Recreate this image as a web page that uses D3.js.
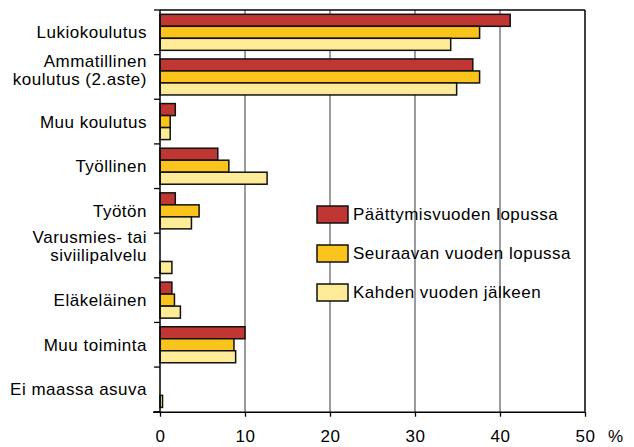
<!DOCTYPE html>
<html><head><meta charset="utf-8">
<script src="https://cdn.jsdelivr.net/npm/d3@7"></script>
<style>
body{margin:0;background:#fff;}
text{font-family:"Liberation Sans",Arial,sans-serif;font-size:17px;letter-spacing:0.5px;fill:#000;}
</style></head><body>
<svg id="c" width="634" height="447"></svg>
<script>
const categories = ["Lukiokoulutus","Ammatillinen koulutus (2.aste)","Muu koulutus","Työllinen","Työtön","Varusmies- tai siviilipalvelu","Eläkeläinen","Muu toiminta","Ei maassa asuva"];
const categoryLines = [["Lukiokoulutus"],["Ammatillinen","koulutus (2.aste)"],["Muu koulutus"],["Työllinen"],["Työtön"],["Varusmies- tai","siviilipalvelu"],["Eläkeläinen"],["Muu toiminta"],["Ei maassa asuva"]];
const seriesNames = ["Päättymisvuoden lopussa","Seuraavan vuoden lopussa","Kahden vuoden jälkeen"];
const seriesColors = ["#bf3633","#fbc41d","#fdeb98"];
const endOfYear   = [41.2, 36.8, 1.8, 6.8, 1.8, 0, 1.4, 10.0, 0];
const nextYear    = [37.6, 37.6, 1.2, 8.1, 4.6, 0, 1.7, 8.7, 0];
const afterTwo    = [34.2, 34.9, 1.2, 12.6, 3.7, 1.4, 2.4, 8.9, 0.3];
const seriesValues = [endOfYear, nextYear, afterTwo];
const xTicks = [0,10,20,30,40,50];

(function(){
const svg = d3.select("#c");
const mLeft = 160, mRight = 585, mTop = 10, mBottom = 411.7;
const x = d3.scaleLinear().domain([0,50]).range([mLeft,mRight]);
const p = 0.193;
const y = d3.scaleBand().domain(categories).range([mTop,mBottom]).paddingInner(p).paddingOuter(p/2);
const ySub = d3.scaleBand().domain(d3.range(seriesNames.length)).range([0,y.bandwidth()]);

// gridlines
svg.append("g").selectAll("line").data(xTicks.filter(t=>t>0&&t<50)).join("line")
  .attr("x1",d=>x(d)).attr("x2",d=>x(d)).attr("y1",mTop).attr("y2",mBottom)
  .attr("stroke","#666").attr("stroke-width",1.3);
// frame: top & right
svg.append("line").attr("x1",mLeft).attr("x2",mRight).attr("y1",mTop).attr("y2",mTop).attr("stroke","#000").attr("stroke-width",1.5);
svg.append("line").attr("x1",mRight).attr("x2",mRight).attr("y1",mTop).attr("y2",mBottom).attr("stroke","#000").attr("stroke-width",1.5);

// bars
const groups = svg.append("g").selectAll("g").data(categories).join("g")
  .attr("transform",d=>`translate(0,${y(d)})`);
groups.selectAll("rect").data((d,i)=>seriesValues.map((s,k)=>({k,v:s[i]})).filter(o=>o.v>0)).join("rect")
  .attr("x",x(0)).attr("y",d=>ySub(d.k)).attr("width",d=>x(d.v)-x(0)).attr("height",ySub.bandwidth())
  .attr("fill",d=>seriesColors[d.k]).attr("stroke","#111").attr("stroke-width",1.5);

// bottom axis
const xAxis = d3.axisBottom(x).tickValues(xTicks).tickSize(5).tickFormat(d3.format("d"));
const gx = svg.append("g").attr("transform",`translate(0,${mBottom})`).call(xAxis);
gx.select(".domain").attr("stroke","#000").attr("stroke-width",1.5).attr("d",`M${mLeft-7},0.5H${mRight}`);
gx.selectAll(".tick line").attr("stroke","#000").attr("stroke-width",1.3);
gx.selectAll(".tick text").attr("y",30.5).attr("dy",null)
  .style("font-size","17px").style("font-family","Liberation Sans, Arial, sans-serif").attr("fill","#000");
svg.append("text").attr("x",608).attr("y",mBottom+30.5).text("%");

// left axis line + boundary ticks
svg.append("line").attr("x1",mLeft).attr("x2",mLeft).attr("y1",mTop).attr("y2",mBottom).attr("stroke","#000").attr("stroke-width",1.5);
const step = y.step();
svg.append("g").selectAll("line").data(d3.range(categories.length+1)).join("line")
  .attr("x1",mLeft-6).attr("x2",mLeft).attr("y1",i=>mTop+i*step).attr("y2",i=>mTop+i*step)
  .attr("stroke","#000").attr("stroke-width",1.3);

// category labels
const lineOffsets = {1:[-16,2],5:[-18.5,-0.5]};
categoryLines.forEach((lines,i)=>{
  const cy = y(categories[i]) + y.bandwidth()/2;
  const offs = lineOffsets[i] || [0];
  lines.forEach((t,j)=>{
    svg.append("text").attr("x",147).attr("y",cy+offs[j]).attr("dy","0.35em")
      .attr("text-anchor","end").text(t);
  });
});

// legend
const legY = [206, 245, 284];
const leg = svg.append("g").selectAll("g").data(seriesNames).join("g")
  .attr("transform",(d,i)=>`translate(317,${legY[i]})`);
leg.append("rect").attr("width",31).attr("height",17)
  .attr("fill",(d,i)=>seriesColors[i]).attr("stroke","#111").attr("stroke-width",1.5);
leg.append("text").attr("x",36).attr("y",8.5).attr("dy","0.35em").text(d=>d);
})();
</script></body></html>
